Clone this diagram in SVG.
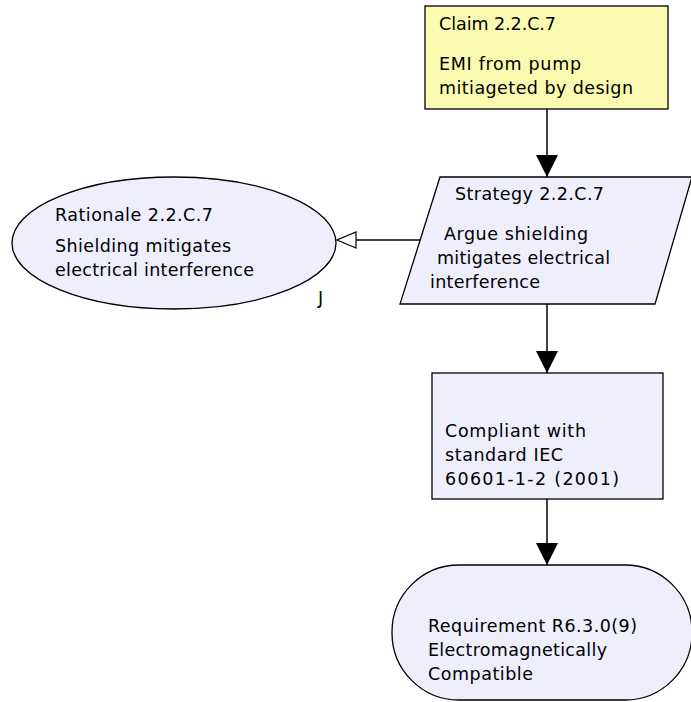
<svg xmlns="http://www.w3.org/2000/svg" width="691" height="702" viewBox="0 0 691 702">
  <defs>
    <style>
      .node { stroke: #000; stroke-width: 1.3; }
      .claim { fill: #fafab0; }
      .lav { fill: #eeeefc; }
      .lbl { font-family: "DejaVu Sans", "Verdana", sans-serif; font-size: 17.5px; fill: #000; }
      .edge { stroke: #000; stroke-width: 1.5; fill: none; }
    </style>
    <marker id="solid" viewBox="0 0 22 22" refX="22" refY="11" markerWidth="22" markerHeight="22" markerUnits="userSpaceOnUse" orient="auto">
      <path d="M0,0 L22,11 L0,22 Z" fill="#000"/>
    </marker>
    <marker id="hollow" viewBox="0 0 21 18" refX="20" refY="9" markerWidth="21" markerHeight="18" markerUnits="userSpaceOnUse" orient="auto">
      <path d="M1,1 L20,9 L1,17 Z" fill="#fff" stroke="#000" stroke-width="1.2"/>
    </marker>
  </defs>

  <g id="connectors">
    <line class="edge" x1="547" y1="109" x2="547" y2="177" marker-end="url(#solid)"/>
    <line class="edge" x1="421" y1="240" x2="337" y2="240" marker-end="url(#hollow)"/>
    <line class="edge" x1="547" y1="304" x2="547" y2="373" marker-end="url(#solid)"/>
    <line class="edge" x1="547" y1="499" x2="547" y2="565" marker-end="url(#solid)"/>
  </g>

  <g id="claim">
    <rect class="node claim" x="425" y="6" width="243" height="103"/>
    <text class="lbl" x="439" y="30" textLength="117">Claim 2.2.C.7</text>
    <text class="lbl" x="439" y="70" textLength="142">EMI from pump</text>
    <text class="lbl" x="439" y="94" textLength="194">mitiageted by design</text>
  </g>

  <g id="strategy">
    <polygon class="node lav" points="440,177 692,177 655,304 400,304"/>
    <text class="lbl" x="455" y="200" textLength="149">Strategy 2.2.C.7</text>
    <text class="lbl" x="444" y="240" textLength="144">Argue shielding</text>
    <text class="lbl" x="437" y="264" textLength="173">mitigates electrical</text>
    <text class="lbl" x="430" y="288" textLength="110">interference</text>
  </g>

  <g id="rationale">
    <ellipse class="node lav" cx="174" cy="243" rx="162" ry="66"/>
    <text class="lbl" x="55" y="221" textLength="158">Rationale 2.2.C.7</text>
    <text class="lbl" x="55" y="252" textLength="176">Shielding mitigates</text>
    <text class="lbl" x="55" y="276" textLength="199">electrical interference</text>
    <text class="lbl" x="318" y="304">J</text>
  </g>

  <g id="compliance">
    <rect class="node lav" x="432" y="373" width="231" height="126"/>
    <text class="lbl" x="445" y="437" textLength="141">Compliant with</text>
    <text class="lbl" x="445" y="461" textLength="118">standard IEC</text>
    <text class="lbl" x="445" y="485" textLength="174">60601-1-2 (2001)</text>
  </g>

  <g id="requirement">
    <rect class="node lav" x="392" y="565" width="300" height="135" rx="67" ry="67"/>
    <text class="lbl" x="428" y="632" textLength="209">Requirement R6.3.0(9)</text>
    <text class="lbl" x="428" y="656" textLength="179">Electromagnetically</text>
    <text class="lbl" x="428" y="680" textLength="105">Compatible</text>
  </g>
</svg>
